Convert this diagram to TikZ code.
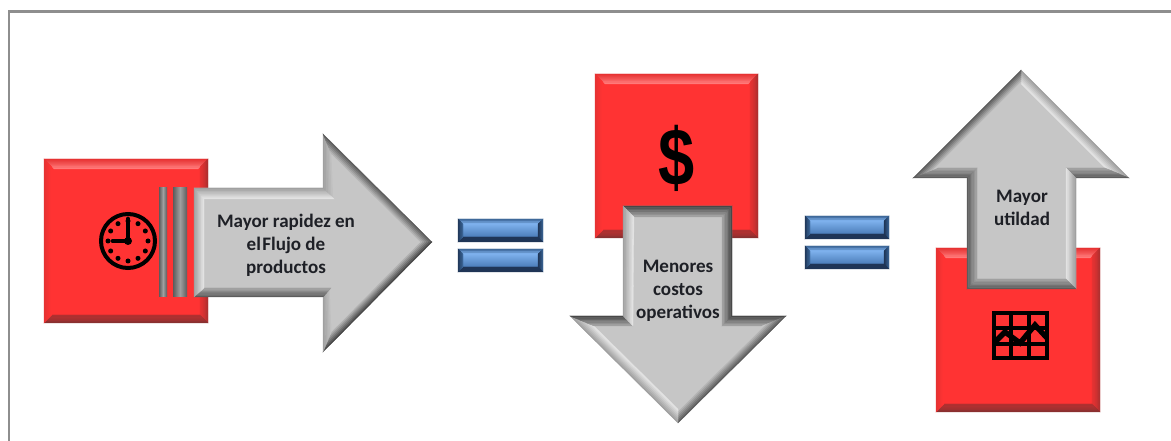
\documentclass[tikz,border=0pt]{standalone}
\usepackage{fontspec}
\setmainfont{Carlito}
\newfontfamily\dollarfont{Liberation Sans}
\usetikzlibrary{calc}
\definecolor{redmain}{HTML}{FF3333}
\definecolor{redlite}{HTML}{FF7A7A}
\definecolor{redmid}{HTML}{E63232}
\definecolor{reddark}{HTML}{8A3030}
\definecolor{reddk}{HTML}{B03030}
\definecolor{graymain}{HTML}{C6C6C6}
\definecolor{gylite}{HTML}{E2E2E2}
\definecolor{gymid}{HTML}{A0A0A0}
\definecolor{gydark}{HTML}{5C5C5C}
\definecolor{gyvdark}{HTML}{484848}
\definecolor{framegray}{HTML}{8E8E8E}
\definecolor{bluemain}{HTML}{4A7CB8}
\definecolor{bluelite}{HTML}{7DB0EC}
\definecolor{bluedark}{HTML}{1F3556}
\definecolor{bluemid}{HTML}{3A6596}
\definecolor{inktext}{HTML}{1E2026}
% one bevelled edge: outer a-b, inner c-d (c under b, d under a), colours outer -> inner
\newcommand{\bev}[6]{%
  \foreach \i in {0,...,6}{%
    \pgfmathsetmacro{\ta}{\i/7}%
    \pgfmathsetmacro{\tb}{(\i+1)/7}%
    \pgfmathsetmacro{\pc}{100-\i*100/6}%
    \filldraw[fill={#5!\pc!#6},draw={#5!\pc!#6},line width=0.2pt]
      ($(#1)!\ta!(#4)$) -- ($(#2)!\ta!(#3)$) -- ($(#2)!\tb!(#3)$) -- ($(#1)!\tb!(#4)$) -- cycle;
  }%
}
\tikzset{
  labeltext/.style={font=\fontsize{14.3}{17.2}\selectfont\bfseries,text=inktext,align=center,inner sep=0pt},
  redface/.style={fill=redmain,draw=none},
  grayface/.style={fill=graymain,draw=none},
  iconline/.style={draw=black,line width=3pt},
  framerule/.style={draw=framegray,line width=2.2pt}
}
\newcommand{\redbox}[4]{% x0 y0 x1 y1
  \fill[redface] (#1,#2) rectangle (#3,#4);
  \bev{#1,#2}{#3,#2}{#3-10,#2+10}{#1+10,#2+10}{redmid}{redlite}
  \bev{#3,#2}{#3,#4}{#3-8,#4-8}{#3-8,#2+8}{reddk}{redmid}
  \bev{#3,#4}{#1,#4}{#1+8,#4-8}{#3-8,#4-8}{reddark}{reddk}
  \bev{#1,#4}{#1,#2}{#1+8,#2+8}{#1+8,#4-8}{redmid}{redmain}
}
\newcommand{\eqbar}[4]{%
  \fill[bluedark] (#1,#2) rectangle (#3,#4);
  \shade[top color=bluelite,bottom color=bluemain] (#1+5,#2+5) rectangle (#3-5,#4-5);
  \bev{#1,#2}{#3,#2}{#3-5,#2+5}{#1+5,#2+5}{bluemid}{bluelite}
  \bev{#3,#2}{#3,#4}{#3-5,#4-5}{#3-5,#2+5}{bluemid}{bluedark}
  \bev{#3,#4}{#1,#4}{#1+5,#4-5}{#3-5,#4-5}{bluedark}{bluedark}
  \bev{#1,#4}{#1,#2}{#1+5,#2+5}{#1+5,#4-5}{bluedark}{bluemid}
}
\begin{document}
\begin{tikzpicture}[x=0.75pt,y=-0.75pt]
\useasboundingbox (0,0) rectangle (1171,441);
\fill[white] (0,0) rectangle (1171,441);
% frame
\draw[framerule] (9,441) -- (9,11.5) -- (1171,11.5);

% ---- left group
\redbox{44}{159}{208}{323}
\draw[iconline] (128,241) circle (27);
\foreach \a in {0,30,...,330}{\fill[black] ($(128,241)+(\a:20)$) circle (2.5);}
\draw[draw=black,line width=3.6pt,line cap=round] (128,219) -- (128,241) -- (113,241);
\fill[black] (128,241) circle (4);
\shade[left color=gydark,right color=gydark,middle color=gymid] (159,188) rectangle (167,297);
\shade[left color=gydark,right color=gydark,middle color=gymid] (173,188) rectangle (187,297);
\fill[grayface] (194,188) -- (323,188) -- (323,134) -- (432,242) -- (323,352) -- (323,297) -- (194,297) -- cycle;
\bev{194,188}{323,188}{335,199}{204,199}{gymid}{gylite}
\bev{323,188}{323,134}{333,158}{335,199}{gymid}{graymain}
\bev{323,134}{432,242}{418,242}{333,158}{gydark}{graymain}
\bev{432,242}{323,352}{333,328}{418,242}{gyvdark}{graymain}
\bev{323,352}{323,297}{331,288}{333,328}{gymid}{graymain}
\bev{323,297}{194,297}{204,288}{331,288}{gydark}{gymid}
\bev{194,297}{194,188}{204,199}{204,288}{gymid}{gylite}
\node[labeltext] (t1) at (286,245) {Mayor rapidez en\\el\kern1pt Flujo de\\productos};

% ---- first equals
\eqbar{458}{219}{543}{242}
\eqbar{458}{249}{543}{272}

% ---- middle group
\redbox{595}{74}{758}{238}
\node[font=\dollarfont\fontsize{58}{60}\selectfont\bfseries,text=black,inner sep=0pt] (dollar) at (677,158) {\scalebox{0.84}[1.05]{\$}};
\fill[grayface] (623,206) -- (732,206) -- (732,316) -- (786,316) -- (678,423) -- (570,316) -- (623,316) -- cycle;
\bev{623,206}{732,206}{722,217}{634,217}{gyvdark}{gymid}
\bev{732,206}{732,316}{722,326}{722,217}{gyvdark}{gymid}
\bev{732,316}{786,316}{762,326}{722,326}{gyvdark}{gymid}
\bev{786,316}{678,423}{678,409}{762,326}{gydark}{graymain}
\bev{678,423}{570,316}{594,326}{678,409}{gymid}{gylite}
\bev{570,316}{623,316}{633,326}{594,326}{gyvdark}{gymid}
\bev{623,316}{623,206}{634,217}{633,326}{gymid}{gylite}
\node[labeltext] (t2) at (678,291) {Menores\\costos\\operativos};

% ---- second equals
\eqbar{805}{216}{889}{239}
\eqbar{805}{246}{889}{269}

% ---- right group
\redbox{936}{248}{1100}{412}
\draw[draw=black,line width=3pt] (993.5,313.5) rectangle (1046.5,358.5);
\draw[draw=black,line width=2.6pt] (1011,313) -- (1011,359) (1029,313) -- (1029,359) (993,328) -- (1047,328) (993,344) -- (1047,344);
\draw[draw=black,line width=4pt] (994,343) -- (1005,332) -- (1020,343) -- (1035,325) -- (1047,338);
\fill[grayface] (967,289) -- (967,178) -- (913,178) -- (1021,70) -- (1129,178) -- (1076,178) -- (1076,289) -- cycle;
\bev{1021,70}{1129,178}{1105,168}{1021,84}{gymid}{gylite}
\bev{1129,178}{1076,178}{1066,168}{1105,168}{gydark}{gymid}
\bev{1076,178}{1076,289}{1066,279}{1066,168}{gymid}{gylite}
\bev{1076,289}{967,289}{977,279}{1066,279}{gydark}{gymid}
\bev{967,289}{967,178}{977,168}{977,279}{gydark}{gymid}
\bev{967,178}{913,178}{937,168}{977,168}{gydark}{gymid}
\bev{913,178}{1021,70}{1021,84}{937,168}{gydark}{graymain}
\node[labeltext] (t3) at (1022,208) {Mayor\\utildad};
\end{tikzpicture}
\end{document}
